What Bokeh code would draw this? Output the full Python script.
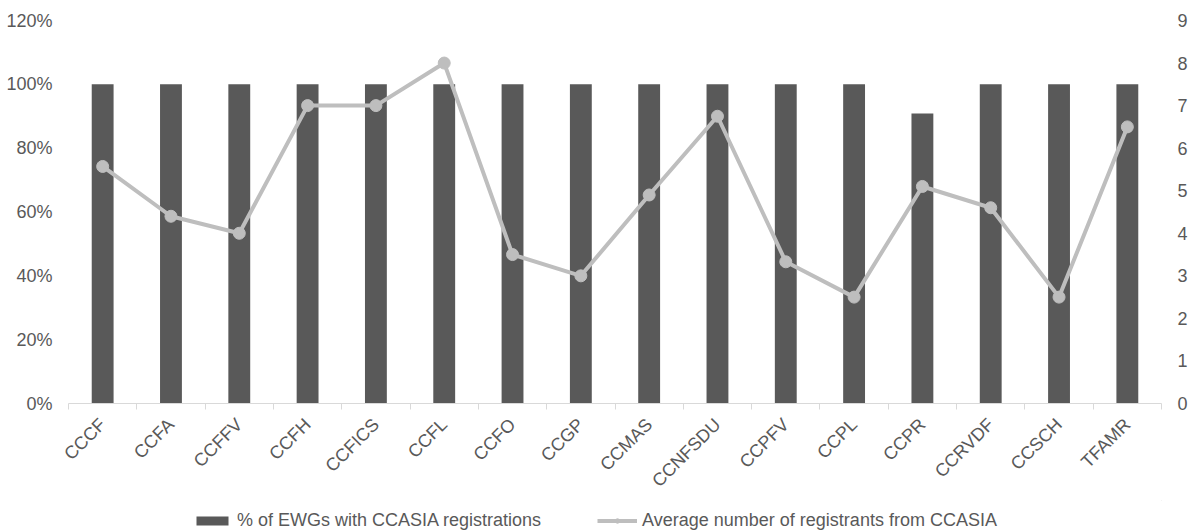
import math
from bokeh.plotting import figure
from bokeh.layouts import column
from bokeh.models import Range1d, LinearAxis, FixedTicker, Legend, LegendItem, PrintfTickFormatter
from bokeh.embed import file_html
from bokeh.resources import INLINE

categories = ["CCCF", "CCFA", "CCFFV", "CCFH", "CCFICS", "CCFL", "CCFO", "CCGP",
              "CCMAS", "CCNFSDU", "CCPFV", "CCPL", "CCPR", "CCRVDF", "CCSCH", "TFAMR"]
pct_ewgs = [100, 100, 100, 100, 100, 100, 100, 100,
            100, 100, 100, 100, 90.9, 100, 100, 100]
avg_registrants = [5.57, 4.4, 4.0, 7.0, 7.0, 8.0, 3.5, 3.0,
                   4.9, 6.75, 3.33, 2.5, 5.1, 4.6, 2.5, 6.5]
left_ticks = [0, 20, 40, 60, 80, 100, 120]
right_ticks = [0, 1, 2, 3, 4, 5, 6, 7, 8, 9]
series_names = ["% of EWGs with CCASIA registrations",
                "Average number of registrants from CCASIA"]

BAR = "#595959"
LINE = "#BEBEBE"
TXT = "#595959"
FONT = "Liberation Sans"
FS = "18px"

idx = list(range(len(categories)))

p = figure(width=1192, height=500, output_backend="svg", toolbar_location=None,
           x_range=Range1d(-0.5, len(categories) - 0.5), y_range=Range1d(0, 120),
           min_border_left=68, min_border_right=31, min_border_top=20, min_border_bottom=97)
p.outline_line_color = None
p.grid.visible = False
p.extra_y_ranges = {"avg": Range1d(0, 9)}

bars = p.vbar(x=idx, top=pct_ewgs, width=0.32, fill_color=BAR, line_color=None)
ln = p.line(idx, avg_registrants, y_range_name="avg", line_color=LINE, line_width=4)
pts = p.scatter(idx, avg_registrants, y_range_name="avg", size=12,
                fill_color=LINE, line_color=LINE)

# x axis
xa = p.xaxis[0]
xa.ticker = FixedTicker(ticks=idx, minor_ticks=[i - 0.5 for i in range(len(categories) + 1)])
xa.major_label_overrides = {i: c for i, c in enumerate(categories)}
xa.major_label_orientation = math.pi / 4
xa.major_tick_line_color = None
xa.major_tick_out = 0
xa.major_tick_in = 0
xa.minor_tick_in = 0
xa.minor_tick_out = 6
xa.minor_tick_line_color = "#D9D9D9"
xa.axis_line_color = "#D9D9D9"
xa.major_label_text_font = FONT
xa.major_label_text_font_size = FS
xa.major_label_text_color = TXT
xa.major_label_standoff = 12

# left axis
ya = p.yaxis[0]
ya.ticker = FixedTicker(ticks=left_ticks)
ya.formatter = PrintfTickFormatter(format="%d%%")
ya.axis_line_color = None
ya.major_tick_line_color = None
ya.major_tick_out = 0
ya.minor_tick_line_color = None
ya.major_label_text_font = FONT
ya.major_label_text_font_size = FS
ya.major_label_text_color = TXT
ya.major_label_standoff = 16

# right axis
ra = LinearAxis(y_range_name="avg", ticker=FixedTicker(ticks=right_ticks))
ra.axis_line_color = None
ra.major_tick_line_color = None
ra.major_tick_out = 0
ra.minor_tick_line_color = None
ra.major_label_text_font = FONT
ra.major_label_text_font_size = FS
ra.major_label_text_color = TXT
ra.major_label_standoff = 16
p.add_layout(ra, "right")

# legend strip (proxy renderers kept outside the visible range)
p2 = figure(width=1192, height=32, output_backend="svg", toolbar_location=None,
            x_range=Range1d(0, 1), y_range=Range1d(0, 1),
            x_axis_location=None, y_axis_location=None, min_border=0)
p2.outline_line_color = None
p2.grid.visible = False
lb = p2.vbar(x=[5], top=[5], bottom=[4], width=0.3, fill_color=BAR, line_color=None)
ll = p2.line(x=[5, 6], y=[5, 5], line_color=LINE, line_width=4)
lp = p2.scatter(x=[5], y=[5], size=12, fill_color=LINE, line_color=LINE)

legend = Legend(items=[
    LegendItem(label=series_names[0], renderers=[lb]),
    LegendItem(label=series_names[1], renderers=[ll, lp]),
], orientation="horizontal", location=(124, 1))
legend.glyph_width = 40
legend.glyph_height = 11
legend.label_standoff = 5
legend.spacing = 56
legend.padding = 0
legend.margin = 0
legend.border_line_color = None
legend.background_fill_alpha = 0
legend.label_text_font = FONT
legend.label_text_font_size = FS
legend.label_text_color = TXT
p2.add_layout(legend, "center")

open("out.html", "w").write(file_html(column(p, p2, spacing=0), INLINE))
